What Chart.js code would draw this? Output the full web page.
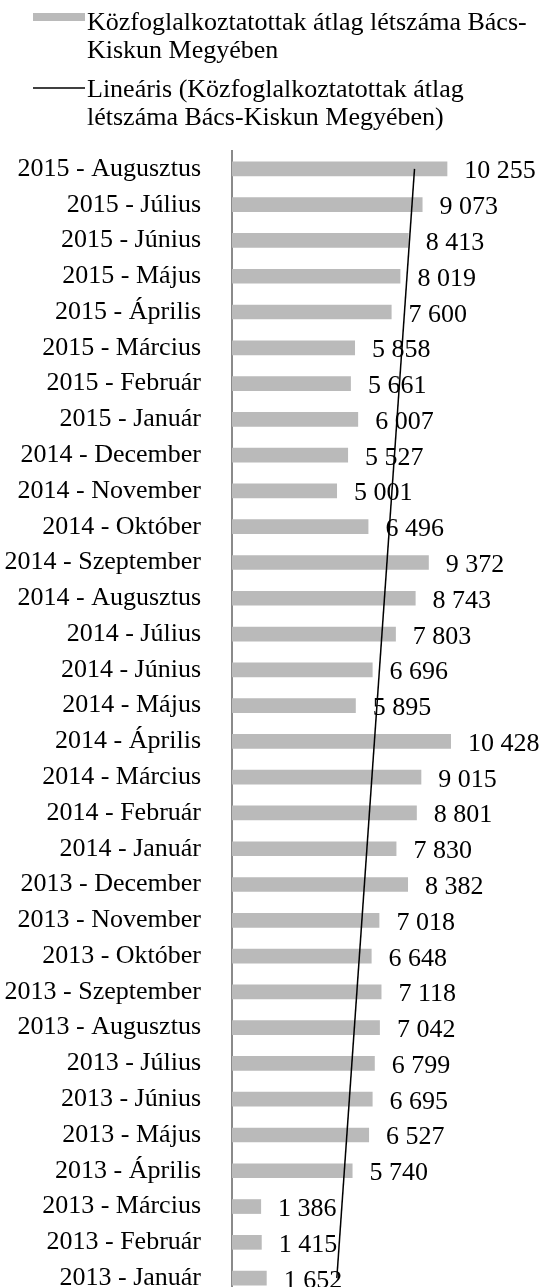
<!DOCTYPE html>
<html>
<head>
<meta charset="utf-8">
<script src="https://cdn.jsdelivr.net/npm/chart.js@4/dist/chart.umd.min.js"></script>
<style>
    html, body { margin: 0; padding: 0; background: #fff; overflow: hidden; }
    #wrap { width: 543px; height: 1300px; }
    #probe { position: absolute; left: -9999px; top: 0; font: 26px 'Liberation Serif', serif; }
</style>
</head>
<body>
<div id="probe">Közfoglalkoztatottak 2015</div>
<div id="wrap"><canvas id="chart" width="543" height="1300"></canvas></div>
<script>
// Hónapok (időrendben, a grafikon alulról felfelé)
const categories = [
    '2013 - Január', '2013 - Február', '2013 - Március', '2013 - Április',
    '2013 - Május', '2013 - Június', '2013 - Július', '2013 - Augusztus',
    '2013 - Szeptember', '2013 - Október', '2013 - November', '2013 - December',
    '2014 - Január', '2014 - Február', '2014 - Március', '2014 - Április',
    '2014 - Május', '2014 - Június', '2014 - Július', '2014 - Augusztus',
    '2014 - Szeptember', '2014 - Október', '2014 - November', '2014 - December',
    '2015 - Január', '2015 - Február', '2015 - Március', '2015 - Április',
    '2015 - Május', '2015 - Június', '2015 - Július', '2015 - Augusztus'
];

// Közfoglalkoztatottak átlag létszáma
const headcount = [
    1652, 1415, 1386, 5740, 6527, 6695, 6799, 7042, 7118, 6648, 7018, 8382,
    7830, 8801, 9015, 10428, 5895, 6696, 7803, 8743, 9372, 6496, 5001, 5527,
    6007, 5661, 5858, 7600, 8019, 8413, 9073, 10255
];

// Lineáris trendvonal végpontjai (első és utolsó hónap)
const trendEnds = [4991, 8691];

const barLabel = 'Közfoglalkoztatottak átlag létszáma Bács-Kiskun Megyében';
const trendLabel = 'Lineáris (Közfoglalkoztatottak átlag létszáma Bács-Kiskun Megyében)';

const serif = "'Liberation Serif', serif";
const barColor = '#bababa';

const last = categories.length - 1;
const trendData = categories.map((c, i) => i === 0 ? trendEnds[0] : (i === last ? trendEnds[1] : null));

function fmt(v) {
    return String(v).replace(/\B(?=(\d{3})+(?!\d))/g, ' ');
}

// Értékcímkék a sávok végén
const valueLabels = {
    id: 'valueLabels',
    afterDatasetsDraw(chart) {
        const ctx = chart.ctx;
        const meta = chart.getDatasetMeta(0);
        ctx.save();
        ctx.font = '26px ' + serif;
        ctx.fillStyle = '#000';
        ctx.textAlign = 'left';
        ctx.textBaseline = 'alphabetic';
        meta.data.forEach((el, i) => {
            ctx.fillText(fmt(chart.data.datasets[0].data[i]), el.x + 17, el.y + 9.5);
        });
        ctx.restore();
    }
};

// Jelmagyarázat tördelt szöveggel
function wrap(ctx, text, maxWidth) {
    const words = [];
    text.split(' ').forEach(w => {
        const parts = w.split(/(?<=-)/);
        parts.forEach((p, k) => words.push({ t: p, space: k === 0 }));
    });
    const lines = [];
    let cur = '';
    words.forEach(w => {
        const next = cur === '' ? w.t : cur + (w.space ? ' ' : '') + w.t;
        if (cur !== '' && ctx.measureText(next).width > maxWidth) {
            lines.push(cur);
            cur = w.t;
        } else {
            cur = next;
        }
    });
    if (cur) lines.push(cur);
    return lines;
}

const legendBox = {
    id: 'legendBox',
    afterDraw(chart) {
        const ctx = chart.ctx;
        ctx.save();
        ctx.font = '26px ' + serif;
        ctx.fillStyle = '#000';
        ctx.textBaseline = 'alphabetic';
        const textX = 87;
        const maxW = chart.width - textX + 4;

        // sáv minta
        ctx.fillStyle = barColor;
        ctx.fillRect(33, 13, 52, 8);
        ctx.fillStyle = '#000';
        let y = 30;
        wrap(ctx, barLabel, maxW).forEach(line => {
            ctx.fillText(line, textX, y);
            y += 28;
        });

        // trendvonal minta
        y += 11;
        ctx.strokeStyle = '#000';
        ctx.lineWidth = 1.5;
        ctx.beginPath();
        ctx.moveTo(33, y - 9);
        ctx.lineTo(85, y - 9);
        ctx.stroke();
        wrap(ctx, trendLabel, maxW).forEach(line => {
            ctx.fillText(line, textX, y);
            y += 28;
        });
        ctx.restore();
    }
};

function draw() {
    const ctx = document.getElementById('chart').getContext('2d');
    new Chart(ctx, {
        type: 'bar',
        data: {
            labels: categories,
            datasets: [{
                label: barLabel,
                data: headcount,
                backgroundColor: barColor,
                borderWidth: 0,
                barPercentage: 0.41,
                categoryPercentage: 1,
                order: 1
            }, {
                type: 'line',
                label: trendLabel,
                data: trendData,
                borderColor: '#000',
                borderWidth: 1.5,
                pointRadius: 0,
                spanGaps: true,
                fill: false,
                order: 0
            }]
        },
        options: {
            indexAxis: 'y',
            responsive: false,
            animation: false,
            layout: {
                padding: { top: 151, right: 59, bottom: 4, left: 0 }
            },
            plugins: {
                legend: { display: false },
                tooltip: { enabled: false }
            },
            scales: {
                x: {
                    display: false,
                    min: 0,
                    max: 12000
                },
                y: {
                    reverse: true,
                    grid: { display: false },
                    border: { display: true, color: '#8a8a8a', width: 2 },
                    ticks: {
                        color: '#000',
                        font: { family: serif, size: 26 },
                        padding: 23,
                        autoSkip: false
                    },
                    afterFit(scale) {
                        scale.width = 232;
                        scale.paddingTop = 0;
                        scale.paddingBottom = 0;
                    }
                }
            }
        },
        plugins: [valueLabels, legendBox]
    });
}

document.fonts.load("26px 'Liberation Serif'").then(draw, draw);
</script>
</body>
</html>
